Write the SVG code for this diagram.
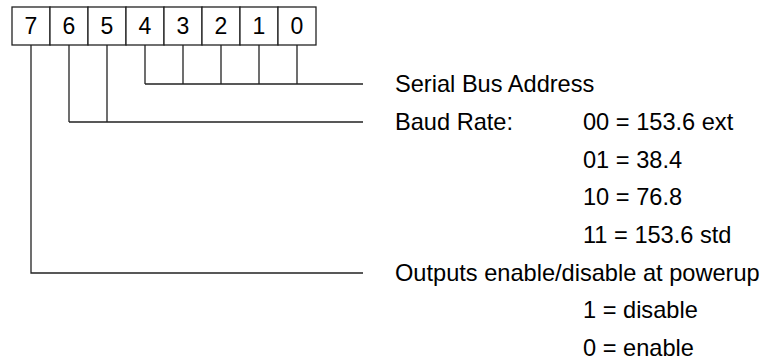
<svg xmlns="http://www.w3.org/2000/svg" width="767" height="360" viewBox="0 0 767 360">
<style>
.box{fill:#fff;stroke:#222;stroke-width:1.3}
.ln{fill:none;stroke:#222;stroke-width:1.3}
text{font-family:"Liberation Sans",Arial,sans-serif;font-size:23.6px;fill:#000}
.d{text-anchor:middle;font-size:23px}
</style>
<rect width="767" height="360" fill="#fff"/>
<g id="register">
<rect class="box" x="12" y="7" width="38" height="38"/><text class="d" x="31" y="34">7</text>
<rect class="box" x="50" y="7" width="38" height="38"/><text class="d" x="69" y="34">6</text>
<rect class="box" x="88" y="7" width="38" height="38"/><text class="d" x="107" y="34">5</text>
<rect class="box" x="126" y="7" width="38" height="38"/><text class="d" x="145" y="34">4</text>
<rect class="box" x="164" y="7" width="38" height="38"/><text class="d" x="183" y="34">3</text>
<rect class="box" x="202" y="7" width="38" height="38"/><text class="d" x="221" y="34">2</text>
<rect class="box" x="240" y="7" width="38" height="38"/><text class="d" x="259" y="34">1</text>
<rect class="box" x="278" y="7" width="38" height="38"/><text class="d" x="297" y="34">0</text>
</g>
<g id="connectors">
<path class="ln" d="M145 45V84M183 45V84M221 45V84M259 45V84M297 45V84M145 84H363"/>
<path class="ln" d="M69 45V122M107 45V122M69 122H363"/>
<path class="ln" d="M31 45V273H363"/>
</g>
<g id="address"><text x="395" y="92">Serial Bus Address</text></g>
<g id="baud">
<text x="395" y="130">Baud Rate:</text>
<text x="583" y="130">00 = 153.6 ext</text>
<text x="583" y="167.5">01 = 38.4</text>
<text x="583" y="205">10 = 76.8</text>
<text x="583" y="243">11 = 153.6 std</text>
</g>
<g id="outputs">
<text x="395" y="280.5">Outputs enable/disable at powerup</text>
<text x="583" y="318">1 = disable</text>
<text x="583" y="355.5">0 = enable</text>
</g>
</svg>
